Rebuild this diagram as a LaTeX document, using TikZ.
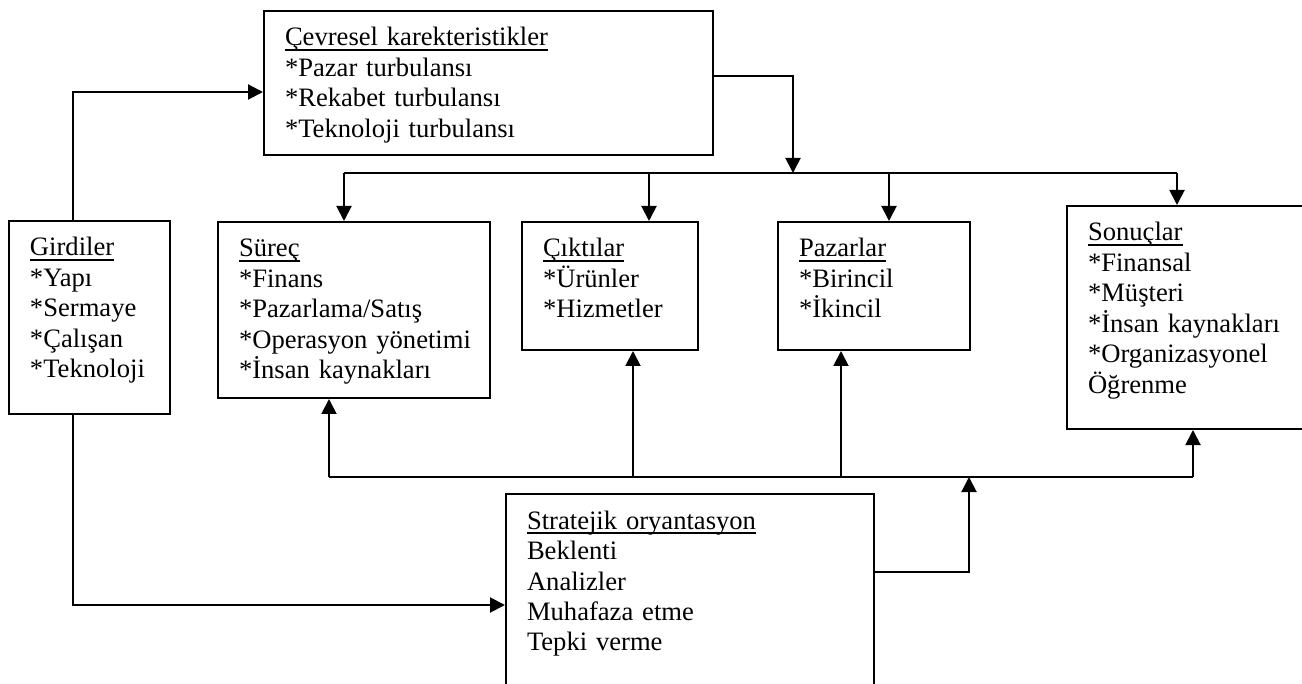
\documentclass[tikz,border=0pt]{standalone}
\usepackage{fontspec}
\setmainfont{Liberation Serif}
\usetikzlibrary{arrows.meta,calc}
\newcommand{\hdr}[1]{\setbox0\hbox{#1}\rlap{\rule[-2.3pt]{\wd0}{0.7pt}}\box0}
\begin{document}
\begin{tikzpicture}[x=0.5pt, y=-0.5pt, line width=1pt,
        box/.style 2 args={draw, rectangle, anchor=north west, align=left, inner xsep=10.5pt, inner ysep=0pt,
            text height=17.5pt, text width=#1, text depth=#2, font=\fontsize{13.3}{15.25}\selectfont},
        arr/.style={-{Triangle[length=7.5pt,width=7.5pt]}}]
        \useasboundingbox (0,0) rectangle (1302,684);

        \node (cevre) [box={203.5pt}{54.5pt}] at (263,10) {\hdr{Çevresel karekteristikler}\\{*}Pazar turbulansı\\{*}Rekabet turbulansı\\{*}Teknoloji turbulansı};
        \node (girdi) [box={59.5pt}{79pt}] at (8,220) {\hdr{Girdiler}\\{*}Yapı\\{*}Sermaye\\{*}Çalışan\\{*}Teknoloji};
        \node (surec) [box={115pt}{70.5pt}] at (217,221) {\hdr{Süreç}\\{*}Finans\\{*}Pazarlama/Satış\\\mbox{*Operasyon yönetimi}\\{*}İnsan kaynakları};
        \node (cikti) [box={67pt}{46.5pt}] at (521,221) {\hdr{Çıktılar}\\{*}Ürünler\\{*}Hizmetler};
        \node (pazar) [box={75pt}{46.5pt}] at (777,221) {\hdr{Pazarlar}\\{*}Birincil\\{*}İkincil};
        \node (sonuc) [box={109pt}{94pt}] at (1066,205) {\hdr{Sonuçlar}\\{*}Finansal\\{*}Müşteri\\{*}İnsan kaynakları\\{*}Organizasyonel\\Öğrenme};
        \node (strat) [box={163pt}{86pt}] at (505,493) {\hdr{Stratejik oryantasyon}\\Beklenti\\Analizler\\Muhafaza etme\\Tepki verme};

        \coordinate (top) at (793,173);
        \coordinate (t1) at (344,173);
        \coordinate (t2) at (649,173);
        \coordinate (t3) at (889,173);
        \coordinate (t4) at (1177,173);
        \coordinate (b1) at (329,477);
        \coordinate (b2) at (633,477);
        \coordinate (b3) at (841,477);
        \coordinate (b4) at (1193,477);
        \coordinate (b5) at (969,477);

        \draw[arr] ($(girdi.north west)+(65,0)$) |- ($(cevre.north west)+(0,82)$);
        \draw[arr] ($(girdi.south west)+(65,0)$) |- ($(strat.north west)+(0,112)$);
        \draw[arr] ($(cevre.north east)+(0,66)$) -| (top);

        \draw (t1) -- (t4);
        \draw[arr] (t1) -- (t1 |- surec.north);
        \draw[arr] (t2) -- (t2 |- cikti.north);
        \draw[arr] (t3) -- (t3 |- pazar.north);
        \draw[arr] (t4) -- (t4 |- sonuc.north);

        \draw (b1) -- (b4);
        \draw[arr] (b1) -- (b1 |- surec.south);
        \draw[arr] (b2) -- (b2 |- cikti.south);
        \draw[arr] (b3) -- (b3 |- pazar.south);
        \draw[arr] (b4) -- (b4 |- sonuc.south);
        \draw[arr] ($(strat.north east)+(0,79)$) -| (b5);
    \end{tikzpicture}
\end{document}
